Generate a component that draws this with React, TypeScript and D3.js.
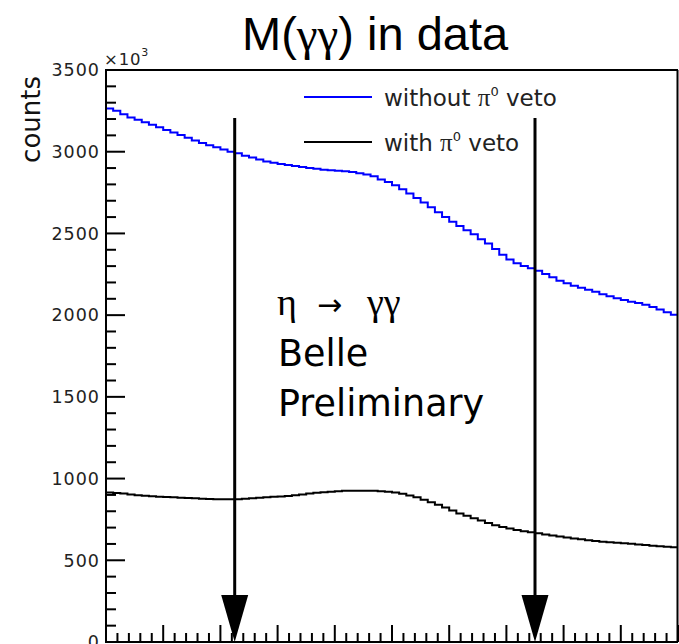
import React, { useEffect, useRef } from "react";
import * as d3 from "d3";

const W = 679;
const H = 644;

// x axis: M(gamma gamma) range, 80 bins
const X_MIN = 0.45;
const X_MAX = 0.65;
const BIN_WIDTH = 0.0025;

// counts (x10^3) per bin
const withoutVeto = [
  3265, 3250, 3230, 3210, 3195, 3180, 3165, 3150, 3133, 3118,
  3102, 3085, 3068, 3054, 3040, 3027, 3014, 3000, 2990, 2976,
  2964, 2952, 2940, 2932, 2925, 2918, 2912, 2906, 2900, 2896,
  2890, 2887, 2884, 2880, 2876, 2868, 2860, 2850, 2830, 2815,
  2795, 2770, 2745, 2717, 2690, 2660, 2630, 2600, 2572, 2545,
  2520, 2495, 2465, 2438, 2405, 2370, 2340, 2318, 2300, 2287,
  2272, 2252, 2232, 2210, 2195, 2180, 2168, 2155, 2143, 2128,
  2115, 2103, 2092, 2082, 2074, 2064, 2050, 2034, 2018, 2002,
];

const withVeto = [
  915, 912, 908, 903, 898, 895, 892, 889, 887, 885,
  883, 881, 879, 877, 875, 874, 873, 873, 874, 877,
  880, 883, 886, 889, 891, 894, 898, 903, 908, 913,
  917, 920, 923, 925, 926, 926, 926, 925, 923, 920,
  915, 907, 897, 885, 870, 855, 840, 823, 805, 787,
  772, 757, 743, 728, 714, 703, 694, 686, 678, 671,
  665, 658, 651, 645, 639, 633, 628, 623, 618, 614,
  610, 607, 604, 601, 597, 593, 589, 586, 583, 580,
];

const yTickLabels = [0, 500, 1000, 1500, 2000, 2500, 3000, 3500];
const Y_MAX = 3500;
const arrowPositions = [0.495, 0.6];
const legendLabels = ["without", "with"];
const legendColors = ["#0000ff", "#000000"];
const textLines = ["Belle", "Preliminary"];

const SANS = "'DejaVu Sans', sans-serif";
const ARIAL = "'Liberation Sans', Arial, sans-serif";
const SERIF = "'Liberation Serif', 'DejaVu Serif', serif";

export default function App() {
  const ref = useRef<SVGSVGElement>(null);

  useEffect(() => {
    const svg = d3.select(ref.current);
    svg.selectAll("*").remove();

    const m = { left: 106, right: 678, top: 70, bottom: 642 };
    const x = d3.scaleLinear().domain([X_MIN, X_MAX]).range([m.left, m.right]);
    const y = d3.scaleLinear().domain([0, Y_MAX]).range([m.bottom, m.top]);

    svg.append("rect").attr("width", W).attr("height", H).attr("fill", "#fff");

    svg
      .append("defs")
      .append("clipPath")
      .attr("id", "plotclip")
      .append("rect")
      .attr("x", m.left)
      .attr("y", m.top)
      .attr("width", m.right - m.left)
      .attr("height", m.bottom - m.top);

    // histograms
    const line = d3
      .line<[number, number]>()
      .x((d) => x(d[0]))
      .y((d) => y(d[1]))
      .curve(d3.curveStepAfter);

    const series = [withoutVeto, withVeto];
    series.forEach((vals, si) => {
      const pts: [number, number][] = vals.map((v, i) => [X_MIN + i * BIN_WIDTH, v]);
      pts.push([X_MAX, vals[vals.length - 1]]);
      svg
        .append("path")
        .attr("d", line(pts) as string)
        .attr("fill", "none")
        .attr("stroke", legendColors[si])
        .attr("stroke-width", 2)
        .attr("clip-path", "url(#plotclip)");
    });

    // frame
    const g = svg.append("g").attr("stroke", "#000").attr("stroke-width", 2);
    g.append("line").attr("x1", m.left).attr("x2", m.left).attr("y1", m.top).attr("y2", m.bottom + 1);
    g.append("line").attr("x1", m.left - 1).attr("x2", m.right).attr("y1", m.top).attr("y2", m.top);
    g.append("line").attr("x1", m.right - 0.5).attr("x2", m.right - 0.5).attr("y1", m.top).attr("y2", m.bottom);
    g.append("line").attr("x1", m.left).attr("x2", m.right).attr("y1", m.bottom).attr("y2", m.bottom);

    // y ticks
    const yMinor = d3.range(0, Y_MAX + 1, 100);
    yMinor.forEach((v) => {
      const major = v % 500 === 0;
      g.append("line")
        .attr("x1", m.left)
        .attr("x2", m.left + (major ? 19 : 10))
        .attr("y1", y(v))
        .attr("y2", y(v));
    });
    svg
      .append("g")
      .selectAll("text")
      .data(yTickLabels)
      .join("text")
      .attr("x", 100)
      .attr("y", (d) => y(d))
      .attr("dy", "0.36em")
      .attr("text-anchor", "end")
      .attr("font-family", SANS)
      .attr("font-size", 17.5)
      .attr("letter-spacing", 1)
      .attr("fill", "#222")
      .text((d) => String(d));

    // x ticks
    for (let k = 0; k <= 50; k++) {
      const v = X_MIN + k * 0.004;
      const major = k % 5 === 0;
      g.append("line")
        .attr("x1", x(v))
        .attr("x2", x(v))
        .attr("y1", m.bottom)
        .attr("y2", m.bottom - (major ? 17 : 9));
    }

    // x10^3
    const mult = svg
      .append("text")
      .attr("x", 104)
      .attr("y", 65)
      .attr("font-family", SANS)
      .attr("font-size", 16.5)
      .attr("letter-spacing", 0.8)
      .attr("fill", "#222");
    mult.append("tspan").text("×10");
    mult.append("tspan").attr("font-size", 11).attr("dy", -9).text("3");

    // y label
    svg
      .append("text")
      .attr("transform", `translate(40,76) rotate(-90)`)
      .attr("text-anchor", "end")
      .attr("font-family", SANS)
      .attr("font-size", 26)
      .attr("fill", "#111")
      .text("counts");

    // title
    const title = svg
      .append("text")
      .attr("x", 242)
      .attr("y", 50)
      .attr("font-family", ARIAL)
      .attr("font-size", 47)
      .attr("fill", "#000");
    title.append("tspan").text("M(");
    title.append("tspan").attr("font-family", SERIF).text("γγ");
    title.append("tspan").text(") in data");

    // legend
    legendLabels.forEach((lab, i) => {
      const ly = 97 + i * 45;
      svg
        .append("line")
        .attr("x1", 304)
        .attr("x2", 372)
        .attr("y1", ly)
        .attr("y2", ly)
        .attr("stroke", legendColors[i])
        .attr("stroke-width", 2);
      const t = svg
        .append("text")
        .attr("x", 384)
        .attr("y", ly + 9)
        .attr("font-family", SANS)
        .attr("font-size", 23)
        .attr("fill", "#222");
      t.append("tspan").text(lab + " ");
      t.append("tspan").attr("font-family", SERIF).attr("font-size", 25).text("π");
      t.append("tspan").attr("font-size", 13).attr("dy", -10).text("0");
      t.append("tspan").attr("dy", 10).text(" veto");
    });

    // arrows
    arrowPositions.forEach((v) => {
      const ax = x(v);
      svg
        .append("line")
        .attr("x1", ax)
        .attr("x2", ax)
        .attr("y1", 118)
        .attr("y2", 600)
        .attr("stroke", "#000")
        .attr("stroke-width", 3);
      svg
        .append("path")
        .attr("d", `M${ax - 13.5},595 L${ax + 13.5},595 L${ax},${m.bottom} Z`)
        .attr("fill", "#000");
    });

    // annotation
    const eta = svg
      .append("text")
      .attr("y", 315)
      .attr("font-family", SERIF)
      .attr("font-size", 38)
      .attr("fill", "#000");
    eta.append("tspan").attr("x", 277).text("η");
    eta.append("tspan").attr("x", 317).attr("font-family", SANS).attr("font-size", 30).text("→");
    eta.append("tspan").attr("x", 367).text("γγ");

    textLines.forEach((tl, i) => {
      svg
        .append("text")
        .attr("x", 278)
        .attr("y", 366 + i * 50)
        .attr("font-family", SANS)
        .attr("font-size", 36.5)
        .attr("fill", "#000")
        .text(tl);
    });
  }, []);

  return (
    <svg
      ref={ref}
      width={W}
      height={H}
      style={{ position: "absolute", left: 0, top: 0, display: "block" }}
    />
  );
}
